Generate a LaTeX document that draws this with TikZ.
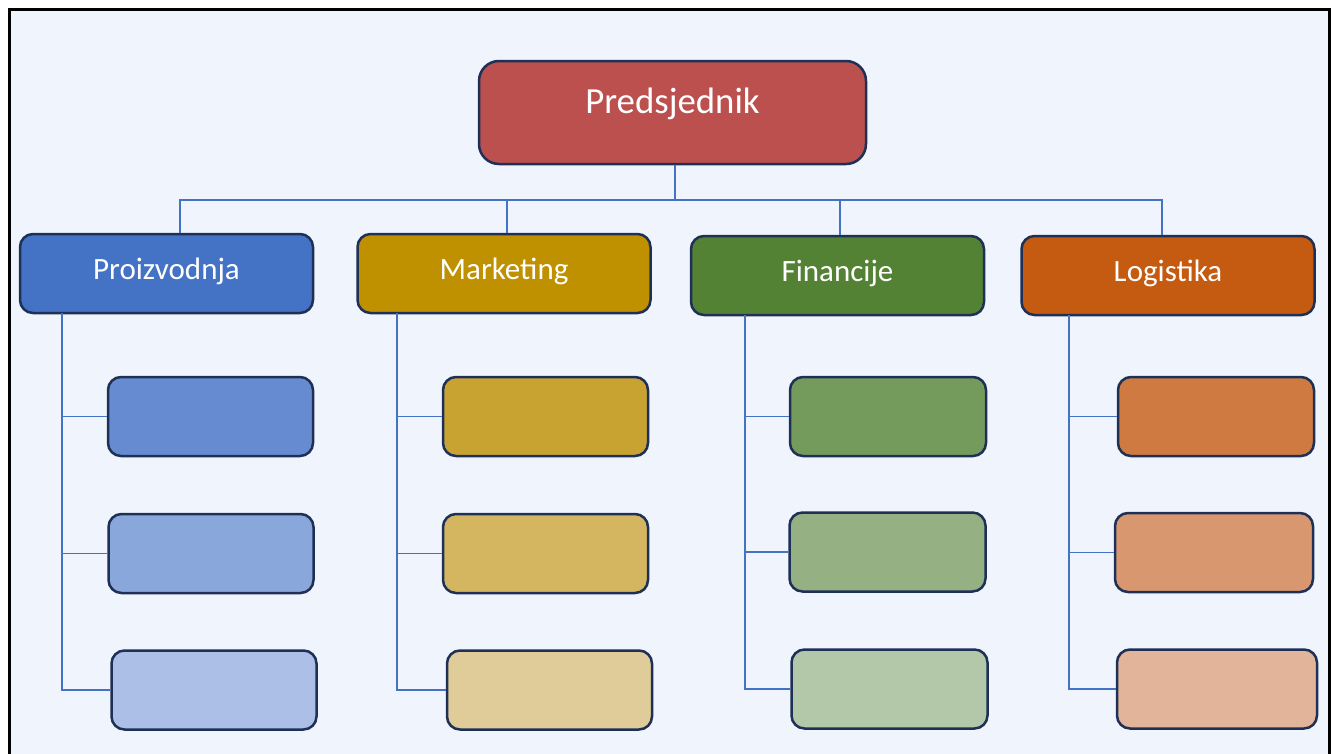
\documentclass[tikz,border=0pt]{standalone}
\usepackage{fontspec}
\setmainfont{Carlito}

\definecolor{bgblue}{HTML}{F0F4FC}
\definecolor{edge}{HTML}{1F3056}
\definecolor{linkblue}{HTML}{4472C4}
\definecolor{presred}{HTML}{BB504F}
\definecolor{prodA}{HTML}{4472C4}
\definecolor{prodB}{HTML}{678BD0}
\definecolor{prodC}{HTML}{8AA7DB}
\definecolor{prodD}{HTML}{ACBFE6}
\definecolor{markA}{HTML}{BF9000}
\definecolor{markB}{HTML}{C9A332}
\definecolor{markC}{HTML}{D4B660}
\definecolor{markD}{HTML}{DFCC98}
\definecolor{finA}{HTML}{548235}
\definecolor{finB}{HTML}{759B5C}
\definecolor{finC}{HTML}{95B082}
\definecolor{finD}{HTML}{B3C8A8}
\definecolor{logA}{HTML}{C55A11}
\definecolor{logB}{HTML}{CF7A41}
\definecolor{logC}{HTML}{D99770}
\definecolor{logD}{HTML}{E2B59B}

\begin{document}
\begin{tikzpicture}[x=1pt, y=-1pt,
    box/.style={draw=edge, line width=2.5pt, rounded corners=13pt, text=white},
    pres/.style={box, fill=presred, minimum width=387pt, minimum height=103pt,
      rounded corners=20pt, font=\fontsize{36.8}{40}\selectfont,
      text height=25pt, text depth=24pt},
    dept/.style={box, minimum width=293pt, minimum height=79pt,
      font=\fontsize{31}{34}\selectfont, text height=20pt, text depth=8pt},
    sub/.style={box, minimum width=205pt, minimum height=79pt},
    link/.style={draw=linkblue, line width=1.1pt}]

  % page and frame
  \useasboundingbox (0,0) rectangle (1331,753);
  \fill[white] (0,0) rectangle (1331,753);
  \draw[line width=3pt, fill=bgblue] (9,9) rectangle (1329,770);

  % top
  \node[pres] (pres) at (672.5,112.5) {Predsjednik};
  \coordinate (bus) at (675,200);

  % departments
  \node[dept, fill=prodA] (prod) at (166.5,273.5) {Proizvodnja};
  \node[dept, fill=markA] (mark) at (504,273.5) {Marketing};
  \node[dept, fill=finA] (fin) at (837.5,275.5) {Financije};
  \node[dept, fill=logA] (log) at (1168,275.5) {Logistika};

  % sub boxes
  \node[sub, fill=prodB] (prod1) at (210.5,416.5) {};
  \node[sub, fill=prodC] (prod2) at (211,553.5) {};
  \node[sub, fill=prodD] (prod3) at (214,690) {};
  \node[sub, fill=markB] (mark1) at (545.5,416.5) {};
  \node[sub, fill=markC] (mark2) at (545.5,553.5) {};
  \node[sub, fill=markD] (mark3) at (549.5,690) {};
  \node[sub, fill=finB, minimum width=196pt] (fin1) at (888,416.5) {};
  \node[sub, fill=finC, minimum width=196pt] (fin2) at (887.5,552) {};
  \node[sub, fill=finD, minimum width=196pt] (fin3) at (889.5,689) {};
  \node[sub, fill=logB, minimum width=196pt] (log1) at (1216,416.5) {};
  \node[sub, fill=logC, minimum width=198pt] (log2) at (1214,552.5) {};
  \node[sub, fill=logD, minimum width=200pt] (log3) at (1217,689) {};

  % links to the top
  \draw[link] (bus |- pres.south) -- (bus);
  \draw[link] ([xshift=13.5pt]prod.north) |- (bus);
  \draw[link] ([xshift=3pt]mark.north) |- (bus);
  \draw[link] ([xshift=2.5pt]fin.north) |- (bus);
  \draw[link] ([xshift=-6pt]log.north) |- (bus);

  % spines
  \coordinate (prodS) at (62,313);
  \coordinate (markS) at (397,313);
  \coordinate (finS) at (745,315);
  \coordinate (logS) at (1069,315);
  \foreach \d in {prod,mark,fin,log}{
    \draw[link] (\d S) |- (\d3.west);
    \draw[link] (\d S |- \d1.west) -- (\d1.west);
    \draw[link] (\d S |- \d2.west) -- (\d2.west);
  }

\end{tikzpicture}
\end{document}
